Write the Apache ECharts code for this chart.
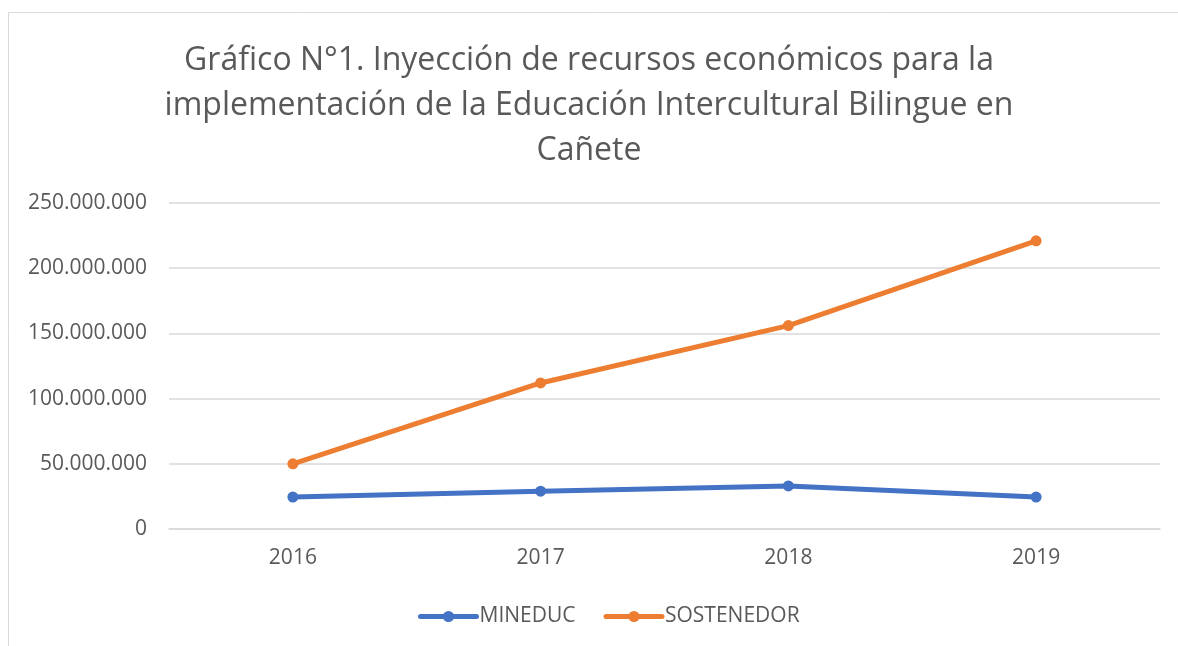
<!DOCTYPE html>
<html>
<head>
<meta charset="utf-8">
<script src="https://cdn.jsdelivr.net/npm/echarts@6/dist/echarts.min.js"></script>
<style>
  html, body { margin: 0; padding: 0; background: #fff; }
  #chart { width: 1178px; height: 646px; }
</style>
</head>
<body>
<div id="chart"></div>
<script>
const years = ["2016", "2017", "2018", "2019"];
const mineduc = [24500000, 29000000, 33000000, 24500000];
const sostenedor = [50000000, 112000000, 156000000, 221000000];

const chart = echarts.init(document.getElementById("chart"));
const font = "'Open Sans', 'Noto Sans', sans-serif";
const grey = "#595959";

function fmt(v) {
    return String(v).replace(/\B(?=(\d{3})+(?!\d))/g, ".");
}

chart.setOption({
    animation: false,
    textStyle: { fontFamily: font },
    graphic: [{
        type: "rect",
        shape: { x: 8.5, y: 12.5, width: 1200, height: 700 },
        style: { fill: "none", stroke: "#d9d9d9", lineWidth: 1 }
    }],
    title: {
        text: "Gráfico N°1. Inyección de recursos económicos para la\nimplementación de la Educación Intercultural Bilingue en\nCañete",
        left: "center",
        top: 33,
        textStyle: {
            fontFamily: font,
            fontSize: 32,
            fontWeight: "normal",
            color: grey,
            lineHeight: 45
        }
    },
    legend: {
        bottom: 14,
        left: 413,
        itemWidth: 56,
        itemHeight: 14,
        itemGap: 28,
        lineStyle: { width: 5 },
        textStyle: { fontSize: 21, color: grey, fontFamily: font, padding: [0, 0, 0, -2] },
        data: ["MINEDUC", "SOSTENEDOR"]
    },
    grid: {
        left: 169,
        right: 18,
        top: 203,
        bottom: 117
    },
    xAxis: {
        type: "category",
        data: years,
        axisLine: { lineStyle: { color: "#d9d9d9", width: 1.5 } },
        axisTick: { show: false },
        axisLabel: { fontSize: 21, color: grey, margin: 19 }
    },
    yAxis: {
        type: "value",
        min: 0,
        max: 250000000,
        interval: 50000000,
        axisLine: { show: false },
        axisTick: { show: false },
        splitLine: { lineStyle: { color: "#d9d9d9", width: 1.5 } },
        axisLabel: {
            fontSize: 21,
            color: grey,
            margin: 22,
            formatter: fmt
        }
    },
    series: [
        {
            name: "MINEDUC",
            type: "line",
            data: mineduc,
            symbol: "circle",
            symbolSize: 11,
            color: "#4472c4",
            lineStyle: { width: 5, cap: "round" },
            itemStyle: { color: "#4472c4" }
        },
        {
            name: "SOSTENEDOR",
            type: "line",
            data: sostenedor,
            symbol: "circle",
            symbolSize: 11,
            color: "#ed7d31",
            lineStyle: { width: 5, cap: "round" },
            itemStyle: { color: "#ed7d31" }
        }
    ]
});

window.addEventListener("resize", () => chart.resize());
</script>
</body>
</html>
